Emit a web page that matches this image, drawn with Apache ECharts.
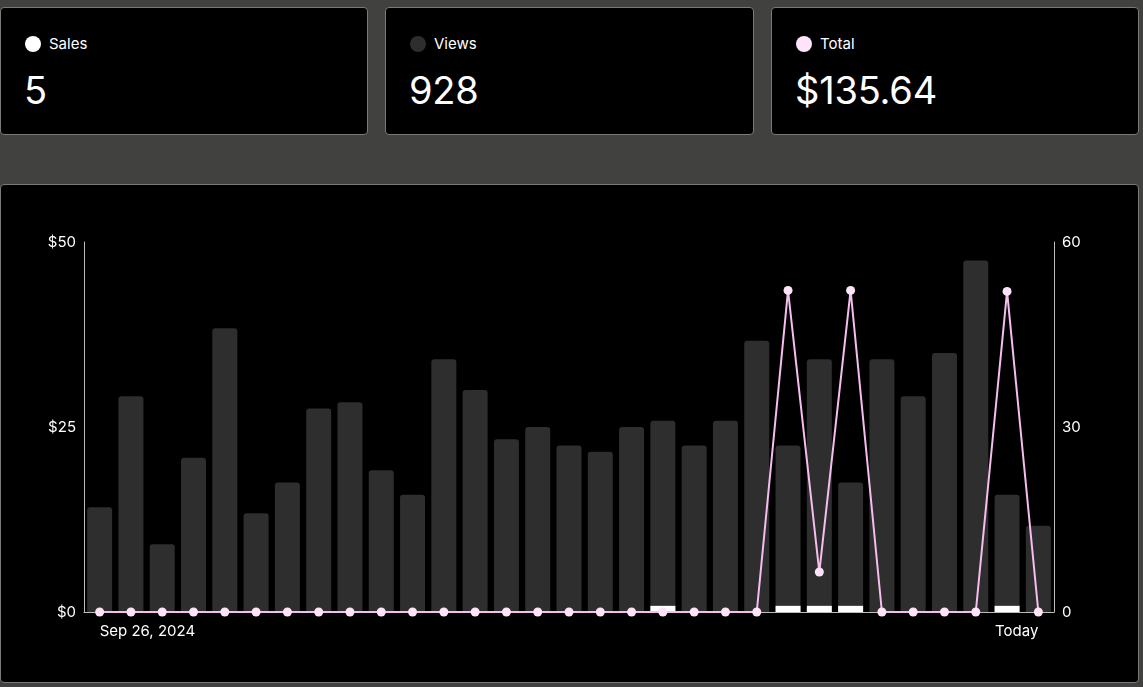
<!DOCTYPE html>
<html>
<head>
<meta charset="utf-8">
<script src="https://cdn.jsdelivr.net/npm/echarts@6/dist/echarts.min.js"></script>
<style>
  html, body { margin: 0; padding: 0; width: 1143px; height: 687px; background: #414140; overflow: hidden; font-family: Inter, "Liberation Sans", sans-serif; }
  .card { position: absolute; background: #000; border: 1px solid #7a7a7a; border-radius: 4px; box-sizing: border-box; }
  .stat .lbl { position: absolute; left: 24px; top: 28px; height: 16px; line-height: 16px; color: #fff; font-size: 15px; display: flex; align-items: center; }
  .stat .dot { width: 16px; height: 16px; border-radius: 50%; margin-right: 8px; }
  .stat .val { position: absolute; left: 23px; top: 59px; color: #fff; font-size: 38px; line-height: 46px; font-weight: 400; letter-spacing: -0.2px; }
  #chart { position: absolute; left: 0; top: 184px; width: 1138px; height: 499px; }
</style>
</head>
<body>
<div class="card stat" style="left:0;top:7px;width:368px;height:128px;">
  <div class="lbl"><span class="dot" style="background:#ffffff"></span>Sales</div>
  <div class="val" id="v-sales"></div>
</div>
<div class="card stat" style="left:385px;top:7px;width:369px;height:128px;">
  <div class="lbl"><span class="dot" style="background:#2e2e2e"></span>Views</div>
  <div class="val" id="v-views"></div>
</div>
<div class="card stat" style="left:771px;top:7px;width:368px;height:128px;">
  <div class="lbl"><span class="dot" style="background:#ffe3f8"></span>Total</div>
  <div class="val" id="v-total"></div>
</div>
<div class="card" style="left:0;top:184px;width:1139px;height:499px;"></div>
<div id="chart"></div>
<script>
const categories = [
  "Sep 26, 2024","Sep 27, 2024","Sep 28, 2024","Sep 29, 2024","Sep 30, 2024",
  "Oct 1, 2024","Oct 2, 2024","Oct 3, 2024","Oct 4, 2024","Oct 5, 2024",
  "Oct 6, 2024","Oct 7, 2024","Oct 8, 2024","Oct 9, 2024","Oct 10, 2024",
  "Oct 11, 2024","Oct 12, 2024","Oct 13, 2024","Oct 14, 2024","Oct 15, 2024",
  "Oct 16, 2024","Oct 17, 2024","Oct 18, 2024","Oct 19, 2024","Oct 20, 2024",
  "Oct 21, 2024","Oct 22, 2024","Oct 23, 2024","Oct 24, 2024","Oct 25, 2024",
  "Today"
];
const views = [17,35,11,25,46,16,21,33,34,23,19,41,36,28,30,27,26,30,31,27,31,44,27,41,21,41,35,42,57,19,14];
const sales = [0,0,0,0,0,0,0,0,0,0,0,0,0,0,0,0,0,0,1,0,0,0,1,1,1,0,0,0,0,1,0];
const total = [0,0,0,0,0,0,0,0,0,0,0,0,0,0,0,0,0,0,0,0,0,0,43.46,5.4,43.46,0,0,0,0,43.32,0];
const leftTicks = [0,25,50];
const rightTicks = [0,30,60];

const sum = a => a.reduce((s, v) => s + v, 0);
document.getElementById('v-sales').textContent = sum(sales);
document.getElementById('v-views').textContent = sum(views);
document.getElementById('v-total').textContent = '$' + sum(total).toFixed(2);

const chart = echarts.init(document.getElementById('chart'), null, { renderer: 'canvas' });
const font = 'Inter, "Liberation Sans", sans-serif';
chart.setOption({
  backgroundColor: 'transparent',
  animation: false,
  textStyle: { fontFamily: font },
  grid: { left: 84, top: 58, width: 970, height: 370, containLabel: false },
  xAxis: {
    type: 'category',
    data: categories,
    boundaryGap: true,
    axisLine: { show: true, lineStyle: { color: '#bdbdbd', width: 1 } },
    axisTick: { show: false },
    splitLine: { show: false },
    axisLabel: {
      color: '#ffffff', fontSize: 15, margin: 12, fontFamily: font,
      interval: (i) => i === 0 || i === categories.length - 1,
      alignMinLabel: 'left', alignMaxLabel: 'right'
    }
  },
  yAxis: [
    {
      type: 'value', min: leftTicks[0], max: leftTicks[2], interval: leftTicks[1],
      position: 'left',
      axisLine: { show: true, lineStyle: { color: '#bdbdbd', width: 1 } },
      axisTick: { show: false }, splitLine: { show: false },
      axisLabel: { color: '#ffffff', fontSize: 15, margin: 8, fontFamily: font, formatter: v => '$' + v }
    },
    {
      type: 'value', min: rightTicks[0], max: rightTicks[2], interval: rightTicks[1],
      position: 'right',
      axisLine: { show: true, lineStyle: { color: '#bdbdbd', width: 1 } },
      axisTick: { show: false }, splitLine: { show: false },
      axisLabel: { color: '#ffffff', fontSize: 15, margin: 8, fontFamily: font }
    }
  ],
  series: [
    {
      name: 'Views', type: 'bar', yAxisIndex: 1, data: views,
      barWidth: 25, barGap: '-100%',
      itemStyle: { color: '#2e2e2e', borderRadius: [3, 3, 0, 0] },
      z: 1
    },
    {
      name: 'Sales', type: 'bar', yAxisIndex: 1, data: sales,
      barWidth: 25, barGap: '-100%',
      itemStyle: { color: '#ffffff' },
      z: 2
    },
    {
      name: 'Total', type: 'line', yAxisIndex: 0, data: total,
      symbol: 'circle', symbolSize: 9, showSymbol: true,
      lineStyle: { color: '#f6bdee', width: 2 },
      itemStyle: { color: '#ffe3f8', borderWidth: 0 },
      z: 5
    }
  ]
});
</script>
</body>
</html>
